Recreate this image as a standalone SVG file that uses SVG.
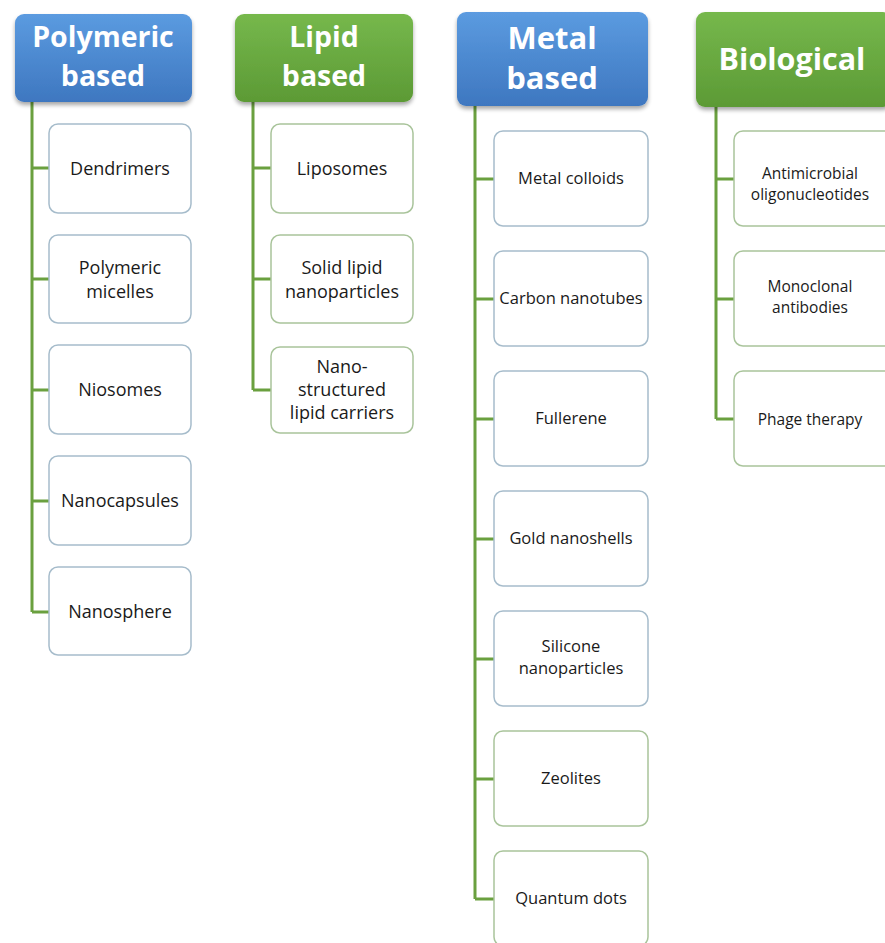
<svg xmlns="http://www.w3.org/2000/svg" width="885" height="943" viewBox="0 0 885 943">
<defs>
<linearGradient id="gBlue" x1="0" y1="0" x2="0" y2="1">
<stop offset="0" stop-color="#5b9be0"/><stop offset="1" stop-color="#3e77c0"/>
</linearGradient>
<linearGradient id="gGreen" x1="0" y1="0" x2="0" y2="1">
<stop offset="0" stop-color="#76b84c"/><stop offset="1" stop-color="#5c9a35"/>
</linearGradient>
<filter id="sh" x="-10%" y="-10%" width="120%" height="130%">
<feGaussianBlur in="SourceAlpha" stdDeviation="2"/>
<feOffset dy="3"/>
<feComponentTransfer><feFuncA type="linear" slope="0.35"/></feComponentTransfer>
<feMerge><feMergeNode/><feMergeNode in="SourceGraphic"/></feMerge>
</filter>
</defs>
<style>
.hdr{font-family:"Open Sans","Liberation Sans",sans-serif;font-weight:bold;fill:#fff;text-anchor:middle}
.t{font-family:"Open Sans","Liberation Sans",sans-serif;fill:#1a1a1a;text-anchor:middle}
.t1{font-size:18px}
.t2{font-size:16.5px}
.t3{font-size:15.5px}
.bb{fill:#fff;stroke:#a6bccb;stroke-width:1.5}
.bg{fill:#fff;stroke:#a9c49b;stroke-width:1.5}
.c{fill:none;stroke:#6aa03f;stroke-width:3}
</style>
<rect width="885" height="943" fill="#fff"/>
<g id="connectors">
<path class="c" d="M32,102 V612 M32,168 H49 M32,279 H49 M32,390 H49 M32,501 H49 M32,612 H49"/>
<path class="c" d="M253,102 V390 M253,168 H271 M253,279 H271 M253,390 H271"/>
<path class="c" d="M475,106 V899 M475,179 H494 M475,299 H494 M475,419 H494 M475,539 H494 M475,659 H494 M475,779 H494 M475,899 H494"/>
<path class="c" d="M716,107 V419 M716,179 H734 M716,299 H734 M716,419 H734"/>
</g>
<g id="polymeric">
<rect x="15" y="14" width="177" height="88" rx="9" fill="url(#gBlue)" filter="url(#sh)"/>
<text class="hdr" font-size="28.5" x="103" y="47">Polymeric</text>
<text class="hdr" font-size="28.5" x="103" y="86">based</text>
</g>
<g id="dendrimers"><rect class="bb" x="49" y="124" width="142" height="89" rx="9"/><text class="t t1" x="120" y="175">Dendrimers</text></g>
<g id="polymeric-micelles"><rect class="bb" x="49" y="235" width="142" height="88" rx="9"/><text class="t t1" x="120" y="274">Polymeric</text><text class="t t1" x="120" y="298">micelles</text></g>
<g id="niosomes"><rect class="bb" x="49" y="345" width="142" height="89" rx="9"/><text class="t t1" x="120" y="396">Niosomes</text></g>
<g id="nanocapsules"><rect class="bb" x="49" y="456" width="142" height="89" rx="9"/><text class="t t1" x="120" y="507">Nanocapsules</text></g>
<g id="nanosphere"><rect class="bb" x="49" y="567" width="142" height="88" rx="9"/><text class="t t1" x="120" y="618">Nanosphere</text></g>
<g id="lipid">
<rect x="235" y="14" width="178" height="88" rx="9" fill="url(#gGreen)" filter="url(#sh)"/>
<text class="hdr" font-size="28.5" x="324" y="47">Lipid</text>
<text class="hdr" font-size="28.5" x="324" y="86">based</text>
</g>
<g id="liposomes"><rect class="bg" x="271" y="124" width="142" height="89" rx="9"/><text class="t t1" x="342" y="175">Liposomes</text></g>
<g id="solid-lipid"><rect class="bg" x="271" y="235" width="142" height="88" rx="9"/><text class="t t1" x="342" y="274">Solid lipid</text><text class="t t1" x="342" y="298">nanoparticles</text></g>
<g id="nlc"><rect class="bg" x="271" y="347" width="142" height="86" rx="9"/><text class="t t1" x="342" y="373">Nano-</text><text class="t t1" x="342" y="396">structured</text><text class="t t1" x="342" y="419">lipid carriers</text></g>
<g id="metal">
<rect x="457" y="12" width="191" height="94" rx="9" fill="url(#gBlue)" filter="url(#sh)"/>
<text class="hdr" font-size="31" x="552" y="49">Metal</text>
<text class="hdr" font-size="31" x="552" y="89">based</text>
</g>
<g id="metal-colloids"><rect class="bb" x="494" y="131" width="154" height="95" rx="9"/><text class="t t2" x="571" y="184">Metal colloids</text></g>
<g id="carbon-nanotubes"><rect class="bb" x="494" y="251" width="154" height="95" rx="9"/><text class="t t2" x="571" y="304">Carbon nanotubes</text></g>
<g id="fullerene"><rect class="bb" x="494" y="371" width="154" height="95" rx="9"/><text class="t t2" x="571" y="424">Fullerene</text></g>
<g id="gold-nanoshells"><rect class="bb" x="494" y="491" width="154" height="95" rx="9"/><text class="t t2" x="571" y="544">Gold nanoshells</text></g>
<g id="silicone"><rect class="bb" x="494" y="611" width="154" height="95" rx="9"/><text class="t t2" x="571" y="652">Silicone</text><text class="t t2" x="571" y="674">nanoparticles</text></g>
<g id="zeolites"><rect class="bg" x="494" y="731" width="154" height="95" rx="9"/><text class="t t2" x="571" y="784">Zeolites</text></g>
<g id="quantum-dots"><rect class="bg" x="494" y="851" width="154" height="95" rx="9"/><text class="t t2" x="571" y="904">Quantum dots</text></g>
<g id="biological">
<rect x="696" y="12" width="196" height="95" rx="9" fill="url(#gGreen)" filter="url(#sh)"/>
<text class="hdr" font-size="30.5" x="792" y="70">Biological</text>
</g>
<g id="antimicrobial"><rect class="bg" x="734" y="131" width="160" height="95" rx="9"/><text class="t t3" x="810" y="179">Antimicrobial</text><text class="t t3" x="810" y="200">oligonucleotides</text></g>
<g id="monoclonal"><rect class="bg" x="734" y="251" width="160" height="95" rx="9"/><text class="t t3" x="810" y="292">Monoclonal</text><text class="t t3" x="810" y="313">antibodies</text></g>
<g id="phage"><rect class="bg" x="734" y="371" width="160" height="95" rx="9"/><text class="t t3" x="810" y="425">Phage therapy</text></g>
</svg>
